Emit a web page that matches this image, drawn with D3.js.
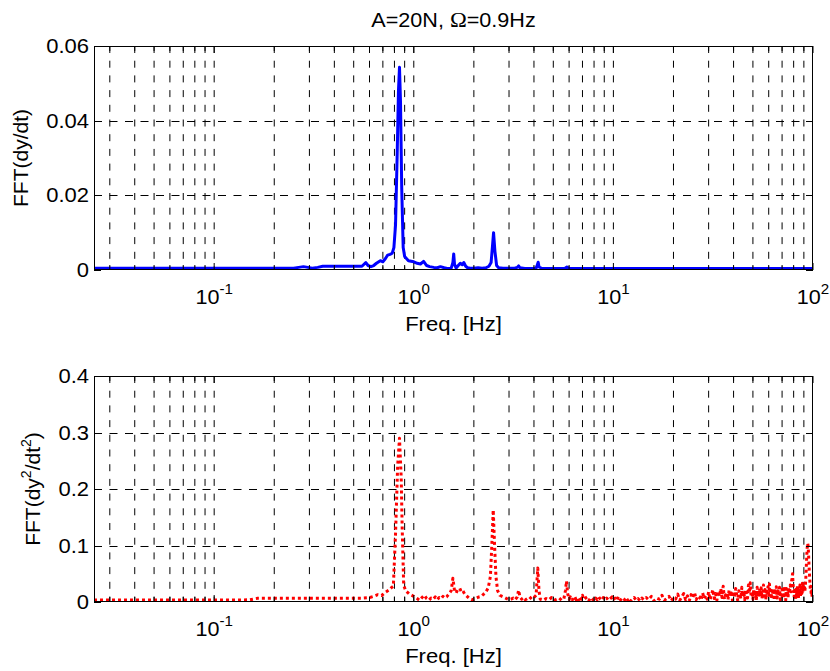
<!DOCTYPE html>
<html>
<head>
<meta charset="utf-8">
<script src="https://cdn.jsdelivr.net/npm/d3@7"></script>
<style>
  body { margin: 0; background: #fff; }
  svg { display: block; }
  text { font-family: "Liberation Sans", Arial, Helvetica, sans-serif; fill: #000; }
</style>
</head>
<body>
<svg id="chart" width="830" height="671"></svg>
<script>
// ---- data -------------------------------------------------------------
const freqDomain = [0.025, 100];
const decadeExponents = [-1, 0, 1, 2];
const velocityTicks = [0, 0.02, 0.04, 0.06];
const accelTicks = [0, 0.1, 0.2, 0.3, 0.4];
const xLabelText = "Freq. [Hz]";

// FFT magnitude of dy/dt: [frequency Hz, amplitude]
const velocitySpectrum = [
  [0.025,0.00045],[0.05,0.00045],[0.1,0.00045],[0.15,0.00045],[0.2,0.00045],[0.25,0.00045],
  [0.265,0.0007],[0.28,0.0009],[0.295,0.0007],[0.31,0.0005],[0.33,0.0007],[0.35,0.001],
  [0.4,0.001],[0.45,0.001],[0.5,0.001],[0.55,0.001],[0.565,0.0016],[0.575,0.002],
  [0.59,0.0012],[0.61,0.0009],[0.63,0.0012],[0.65,0.0018],[0.68,0.0025],[0.70,0.0022],
  [0.72,0.0030],[0.74,0.0040],[0.76,0.0042],[0.78,0.0045],[0.795,0.0060],[0.81,0.012],
  [0.825,0.030],[0.838,0.048],[0.848,0.0543],[0.858,0.045],[0.87,0.022],[0.885,0.006],
  [0.9,0.0036],[0.94,0.0025],[1.0,0.0022],[1.04,0.0018],[1.08,0.0016],[1.12,0.0023],
  [1.16,0.0012],[1.2,0.0009],[1.26,0.0007],[1.31,0.0006],[1.36,0.0009],[1.42,0.0006],
  [1.47,0.0004],[1.54,0.0005],[1.57,0.0020],[1.585,0.0043],[1.60,0.0015],[1.63,0.0005],
  [1.67,0.0012],[1.71,0.0018],[1.75,0.0014],[1.78,0.0020],[1.82,0.0010],[1.86,0.0006],
  [1.92,0.0005],[2.0,0.0005],[2.1,0.0006],[2.2,0.0005],[2.3,0.0006],[2.38,0.0010],
  [2.44,0.0020],[2.48,0.0065],[2.51,0.0100],[2.55,0.0050],[2.6,0.0012],[2.66,0.0006],
  [2.8,0.0005],[3.0,0.0005],[3.2,0.0005],[3.3,0.0007],[3.35,0.0011],[3.4,0.0006],
  [3.6,0.0004],[3.9,0.0004],[4.1,0.0005],[4.17,0.0015],[4.2,0.0021],[4.24,0.0008],
  [4.4,0.0004],[5.0,0.0004],[5.7,0.0004],[5.85,0.0008],[6.0,0.0004],[7,0.0004],
  [10,0.0004],[20,0.0004],[50,0.0004],[100,0.0004]
];

// FFT magnitude of d2y/dt2 below 15 Hz: [frequency Hz, amplitude]
const accelSpectrumLow = [
  [0.025,0.0035],[0.05,0.0035],[0.1,0.0035],[0.15,0.0038],[0.165,0.0065],[0.25,0.0065],
  [0.35,0.0065],[0.45,0.0065],[0.55,0.0068],[0.6,0.0078],[0.63,0.0100],[0.66,0.0130],
  [0.69,0.0115],[0.72,0.0170],[0.75,0.0210],[0.77,0.0250],[0.79,0.0280],[0.81,0.1200],
  [0.83,0.2400],[0.848,0.2900],[0.865,0.2200],[0.875,0.1300],[0.89,0.0300],[0.91,0.0200],
  [0.95,0.0140],[1.0,0.0100],[1.04,0.0060],[1.07,0.0030],[1.10,0.0080],[1.13,0.0120],
  [1.16,0.0060],[1.19,0.0030],[1.22,0.0070],[1.25,0.0050],[1.28,0.0090],[1.31,0.0040],
  [1.34,0.0080],[1.37,0.0060],[1.40,0.0100],[1.43,0.0070],[1.46,0.0090],[1.50,0.0140],
  [1.54,0.0200],[1.57,0.0420],[1.60,0.0200],[1.63,0.0160],[1.66,0.0220],[1.70,0.0240],
  [1.73,0.0180],[1.76,0.0200],[1.80,0.0140],[1.85,0.0100],[1.90,0.0060],[1.95,0.0040],
  [2.00,0.0050],[2.06,0.0070],[2.12,0.0090],[2.18,0.0100],[2.24,0.0140],[2.30,0.0180],
  [2.36,0.0250],[2.42,0.0450],[2.46,0.1000],[2.50,0.1630],[2.54,0.1000],[2.58,0.0450],
  [2.63,0.0200],[2.70,0.0120],[2.77,0.0100],[2.85,0.0080],[2.92,0.0060],[3.0,0.0040],
  [3.07,0.0050],[3.15,0.0070],[3.22,0.0040],[3.30,0.0090],[3.35,0.0210],[3.40,0.0100],
  [3.47,0.0050],[3.55,0.0080],[3.62,0.0040],[3.70,0.0060],[3.80,0.0090],[3.90,0.0050],
  [4.00,0.0080],[4.10,0.0120],[4.18,0.0600],[4.24,0.0200],[4.30,0.0050],[4.45,0.0030],
  [4.60,0.0060],[4.75,0.0040],[4.90,0.0080],[5.05,0.0030],[5.20,0.0050],[5.35,0.0070],
  [5.50,0.0030],[5.65,0.0060],[5.75,0.0200],[5.82,0.0370],[5.90,0.0150],[6.00,0.0050],
  [6.10,0.0090],[6.20,0.0030],[6.30,0.0060],[6.40,0.0100],[6.50,0.0040],[6.60,0.0070],
  [6.70,0.0020],[6.80,0.0080],[6.90,0.0050],[7.00,0.0120],[7.10,0.0040],[7.25,0.0070],
  [7.40,0.0090],[7.55,0.0030],[7.70,0.0080],[7.85,0.0050],[8.00,0.0020],[8.15,0.0070],
  [8.30,0.0040],[8.45,0.0090],[8.60,0.0050],[8.75,0.0030],[8.90,0.0080],[9.05,0.0040],
  [9.25,0.0070],[9.45,0.0030],[9.65,0.0060],[9.85,0.0090],[10.0,0.0040],[10.2,0.0070],
  [10.4,0.0030],[10.6,0.0100],[10.8,0.0050],[11.0,0.0020],[11.2,0.0060],[11.4,0.0040],
  [11.6,0.0080],[11.8,0.0030],[12.0,0.0070],[12.2,0.0020],[12.4,0.0050],[12.7,0.0080],
  [13.0,0.0030],[13.3,0.0060],[13.6,0.0020],[13.9,0.0070],[14.2,0.0040],[14.6,0.0080]
];

// FFT bins of d2y/dt2 from 15 Hz to 100 Hz, 0.5 Hz apart
const accelBinStart = 15;
const accelBinWidth = 0.5;
const accelSpectrumHigh = [
  0.004,0.010,0.002,0.007,0.005,0.012,0.003,0.006,0.010,0.002,
  0.008,0.005,0.014,0.003,0.009,0.015,0.004,0.011,0.002,0.013,
  0.007,0.017,0.004,0.011,0.009,0.003,0.016,0.006,0.012,0.005,
  0.018,0.004,0.012,0.022,0.006,0.015,0.003,0.019,0.010,0.024,
  0.008,0.028,0.005,0.013,0.017,0.004,0.021,0.011,0.016,0.003,
  0.019,0.008,0.024,0.012,0.002,0.020,0.015,0.006,0.026,0.010,
  0.018,0.004,0.022,0.013,0.007,0.030,0.016,0.034,0.009,0.019,
  0.005,0.023,0.011,0.018,0.003,0.026,0.014,0.008,0.021,0.012,
  0.025,0.006,0.017,0.030,0.010,0.022,0.004,0.019,0.013,0.027,
  0.009,0.032,0.015,0.021,0.005,0.024,0.012,0.018,0.003,0.020,
  0.014,0.027,0.007,0.017,0.023,0.010,0.026,0.004,0.018,0.012,
  0.022,0.006,0.019,0.028,0.011,0.016,0.003,0.024,0.013,0.020,
  0.008,0.026,0.015,0.022,0.030,0.018,0.035,0.042,0.050,0.030,
  0.021,0.009,0.025,0.016,0.004,0.023,0.012,0.028,0.018,0.007,
  0.024,0.014,0.030,0.010,0.020,0.026,0.015,0.033,0.019,0.028,
  0.022,0.030,0.018,0.028,0.040,0.060,0.080,0.095,0.104,0.100,
  0.085,0.065,0.050,0.035,0.022,0.028,0.012,0.020,0.008,0.015,
  0.010
];

// ---- layout -----------------------------------------------------------
const svg = d3.select("#chart");
const plotLeft = 94, plotRight = 813;
const panels = [
  { top: 46,  bottom: 270, yMax: 0.06, ticks: velocityTicks, fmt: d3.format(".2~f"),
    data: velocitySpectrum, color: "#0000ff", dash: null,
    ylabel: [["FFT(dy/dt)", false]], ylabelX: 28 },
  { top: 376, bottom: 602, yMax: 0.4, ticks: accelTicks, fmt: d3.format(".1~f"),
    data: accelSpectrumLow.concat(accelSpectrumHigh.map((v, i) => [accelBinStart + i * accelBinWidth, v])),
    color: "#ff0000", dash: "3,3",
    ylabel: [["FFT(dy", false], ["2", true], ["/dt", false], ["2", true], [")", false]], ylabelX: 40 }
];

const x = d3.scaleLog().domain(freqDomain).range([plotLeft, plotRight]);
const minorTicks = x.ticks();
const majorTicks = decadeExponents.map(e => Math.pow(10, e));

// text placed at (px, py), slightly widened horizontally like the exported figure fonts
function label(parent, px, py, anchor, size, sx) {
  return parent.append("text")
    .attr("transform", `translate(${px},${py}) scale(${sx},1)`)
    .attr("text-anchor", anchor).style("font-size", size + "px");
}

// title
const title = label(svg, (plotLeft + plotRight) / 2, 27, "middle", 20, 1.08);
title.append("tspan").text("A=20N, ");
title.append("tspan").style("font-family", "'Liberation Serif', 'DejaVu Serif', serif").style("font-size", "21px").text("Ω");
title.append("tspan").text("=0.9Hz");

panels.forEach((p, pi) => {
  const y = d3.scaleLinear().domain([0, p.yMax]).range([p.bottom, p.top]);
  const g = svg.append("g");

  // grid: dashed vertical lines at every log tick, horizontal at y ticks
  g.append("g").selectAll("line").data(minorTicks.filter(t => t > freqDomain[0] && t < freqDomain[1]))
    .join("line")
    .attr("x1", d => x(d)).attr("x2", d => x(d))
    .attr("y1", p.top).attr("y2", p.bottom)
    .attr("stroke", "#000").attr("stroke-width", 1).attr("stroke-dasharray", "7,7.7");
  g.append("g").selectAll("line").data(p.ticks.filter(t => t > 0 && t < p.yMax))
    .join("line")
    .attr("x1", plotLeft).attr("x2", plotRight)
    .attr("y1", d => Math.round(y(d)) + 0.5).attr("y2", d => Math.round(y(d)) + 0.5)
    .attr("stroke", "#000").attr("stroke-width", 1).attr("stroke-dasharray", "8,7.5");

  // data line
  const clipId = "clip" + pi;
  svg.append("clipPath").attr("id", clipId).append("rect")
    .attr("x", plotLeft).attr("y", p.top).attr("width", plotRight - plotLeft).attr("height", p.bottom - p.top);
  const line = d3.line().x(d => x(d[0])).y(d => y(d[1]));
  const path = g.append("path").datum(p.data)
    .attr("clip-path", `url(#${clipId})`)
    .attr("d", line)
    .attr("fill", "none").attr("stroke", p.color).attr("stroke-width", 3)
    .attr("stroke-linejoin", "round");
  if (p.dash) path.attr("stroke-dasharray", p.dash).attr("stroke-linecap", "butt");
  else path.attr("stroke-linecap", "round");

  // box
  g.append("rect").attr("x", plotLeft + 0.5).attr("y", p.top + 0.5)
    .attr("width", plotRight - plotLeft - 1).attr("height", p.bottom - p.top - 1)
    .attr("fill", "none").attr("stroke", "#000").attr("stroke-width", 1);

  // inward ticks on all four sides
  const ticksG = g.append("g").attr("stroke", "#000").attr("stroke-width", 1);
  minorTicks.forEach(t => {
    const len = majorTicks.some(m => Math.abs(m - t) < 1e-9) ? 7 : 5;
    ticksG.append("line").attr("x1", x(t)).attr("x2", x(t)).attr("y1", p.bottom).attr("y2", p.bottom - len);
    ticksG.append("line").attr("x1", x(t)).attr("x2", x(t)).attr("y1", p.top).attr("y2", p.top + len);
  });
  p.ticks.forEach(t => {
    const yy = Math.round(y(t)) + 0.5;
    ticksG.append("line").attr("x1", plotLeft).attr("x2", plotLeft + 7).attr("y1", yy).attr("y2", yy);
    ticksG.append("line").attr("x1", plotRight).attr("x2", plotRight - 7).attr("y1", yy).attr("y2", yy);
  });

  // y tick labels
  p.ticks.forEach(d => {
    label(g, plotLeft - 5, y(d) + 7, "end", 20, 1.1).text(d === 0 ? "0" : p.fmt(d));
  });

  // x tick labels (powers of ten)
  decadeExponents.forEach(e => {
    const t = label(g, x(Math.pow(10, e)), p.bottom + 34, "middle", 20, 1.08);
    t.append("tspan").text("10");
    t.append("tspan").attr("dy", -10).style("font-size", "14px").text(String(e));
  });

  // x label
  label(g, (plotLeft + plotRight) / 2, p.bottom + 61, "middle", 21, 1.05).text(xLabelText);

  // y label
  const yl = g.append("text")
    .attr("transform", `translate(${p.ylabelX},${(p.top + p.bottom) / 2}) rotate(-90)`)
    .attr("text-anchor", "middle").style("font-size", "21px");
  let raised = false;
  p.ylabel.forEach(([s, sup]) => {
    const ts = yl.append("tspan").text(s);
    if (sup && !raised) { ts.attr("dy", -9).style("font-size", "14px"); raised = true; }
    else if (!sup && raised) { ts.attr("dy", 9); raised = false; }
    else if (sup) ts.style("font-size", "14px");
  });
});
</script>
</body>
</html>
